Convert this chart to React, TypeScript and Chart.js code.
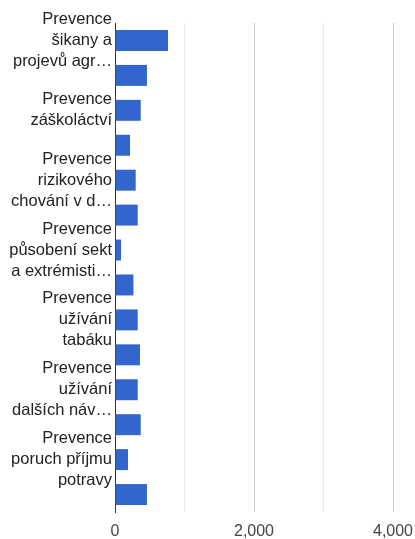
import React, { useEffect, useRef } from "react";
import { Chart, registerables } from "chart.js";

Chart.register(...registerables);

// Category labels (every second label is not shown in the reference; unknown text left blank)
const categories: string[][] = [
  ["Prevence", "šikany a", "projevů agr…"],
  [""],
  ["Prevence", "záškoláctví"],
  [""],
  ["Prevence", "rizikového", "chování v d…"],
  [""],
  ["Prevence", "působení sekt", "a extrémisti…"],
  [""],
  ["Prevence", "užívání", "tabáku"],
  [""],
  ["Prevence", "užívání", "dalších náv…"],
  [""],
  ["Prevence", "poruch příjmu", "potravy"],
  [""],
];

const values: number[] = [763, 460, 370, 216, 298, 327, 86, 265, 327, 360, 327, 370, 187, 460];

const xMin = 0;
const xMax = 4000;
const xStep = 1000;
const labelEvery = 2000;

export default function App() {
  const ref = useRef<HTMLCanvasElement | null>(null);

  useEffect(() => {
    if (!ref.current) return;
    const chart = new Chart(ref.current, {
      type: "bar",
      data: {
        labels: categories,
        datasets: [
          {
            data: values,
            backgroundColor: "#3366cc",
            borderWidth: 0,
            barPercentage: 0.6,
            categoryPercentage: 1,
          },
        ],
      },
      options: {
        indexAxis: "y",
        animation: false,
        responsive: false,
        maintainAspectRatio: false,
        layout: { padding: { top: 23, right: 22, left: 0, bottom: 0 } },
        plugins: { legend: { display: false }, tooltip: { enabled: false } },
        scales: {
          x: {
            min: xMin,
            max: xMax,
            grid: {
              color: (ctx: any) =>
                ctx.tick && ctx.tick.value % labelEvery === 0 ? "#cccccc" : "#ebebeb",
              drawTicks: false,
            },
            border: { display: false },
            ticks: {
              stepSize: xStep,
              padding: 10,
              maxRotation: 0,
              color: "#444444",
              font: { family: "'Liberation Sans', Arial, sans-serif", size: 16 },
              callback: (v: any) =>
                Number(v) % labelEvery === 0 ? Number(v).toLocaleString("en-US") : "",
            },
            afterFit: (scale: any) => {
              scale.height = 27;
              scale.paddingLeft = 0;
              scale.paddingRight = 0;
            },
          },
          y: {
            grid: { display: false, drawTicks: false },
            border: { display: true, color: "#333333", width: 1 },
            ticks: {
              autoSkip: false,
              padding: 3,
              color: "#222222",
              font: { family: "'Liberation Sans', Arial, sans-serif", size: 16.5, lineHeight: 1.27 },
              callback: (_v: any, i: number) => categories[i],
            },
            afterFit: (scale: any) => {
              scale.width = 115;
              scale.paddingTop = 0;
              scale.paddingBottom = 0;
            },
          },
        },
      },
    });
    return () => chart.destroy();
  }, []);

  return (
    <div style={{ position: "fixed", left: 0, top: 0, width: 415, height: 539, background: "#fff" }}>
      <canvas ref={ref} width={415} height={539} />
    </div>
  );
}
